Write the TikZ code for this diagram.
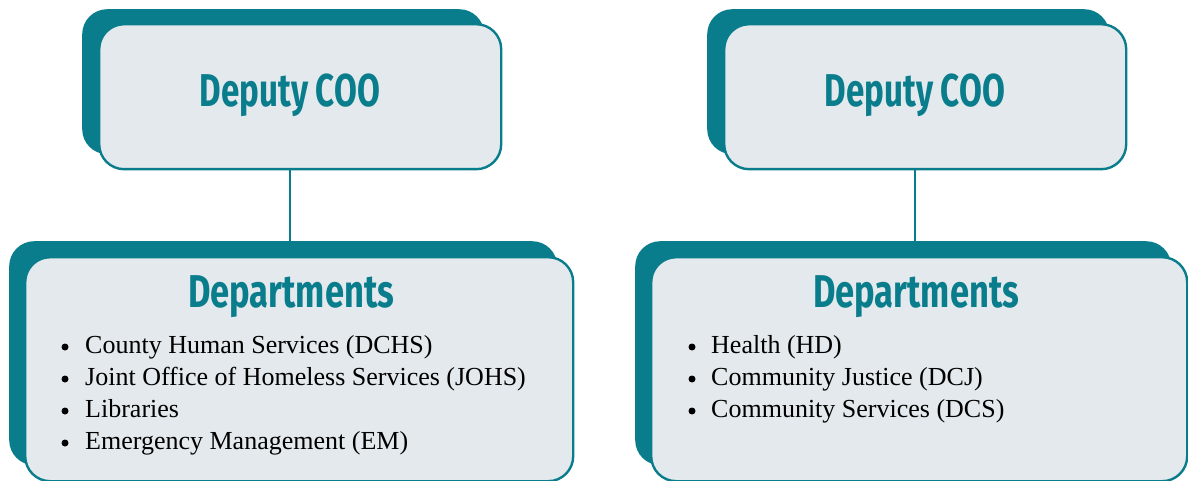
\documentclass[tikz,border=0pt]{standalone}
\usepackage{fontspec}
\setmainfont{Liberation Serif}
\newfontfamily\headfont[FakeStretch=0.75]{Fira Sans}
\newfontfamily\headfontb[FakeStretch=0.72]{Fira Sans}
\definecolor{tealc}{HTML}{0A7D8C}
\definecolor{paperc}{HTML}{E3E9EC}
\begin{document}
\begin{tikzpicture}[x=1pt,y=-1pt,
  shadowbox/.style={fill=tealc, draw=none, rounded corners=25pt, anchor=north west, inner sep=0pt},
  frontbox/.style={fill=paperc, draw=tealc, line width=2.4pt, rounded corners=25pt, anchor=north west, inner sep=0pt},
  titletext/.style={font=\headfont\bfseries\fontsize{46}{50}\selectfont, text=tealc, anchor=base, inner sep=0pt},
  deputytext/.style={titletext, font=\headfontb\bfseries\fontsize{46}{50}\selectfont},
  itemtext/.style={font=\fontsize{26}{32}\selectfont, anchor=base west, inner sep=0pt},
  bul/.style={circle, fill=black, minimum size=7pt, inner sep=0pt},
  conn/.style={draw=tealc, line width=2.2pt}]
\useasboundingbox (0,0) rectangle (1188,481);

% top-left
\node[shadowbox, minimum width=402pt, minimum height=145pt] (d1s) at (82,9) {};
\node[frontbox, minimum width=402pt, minimum height=145pt] (d1) at (98,23) {};
\node[deputytext] (t1) at (290,107) {Deputy COO};
% top-right
\node[shadowbox, minimum width=402pt, minimum height=145pt] (d2s) at (707,9) {};
\node[frontbox, minimum width=402pt, minimum height=145pt] (d2) at (723,23) {};
\node[deputytext] (t2) at (915,107) {Deputy COO};

% bottom-left
\node[shadowbox, minimum width=548pt, minimum height=224pt] (p1s) at (9,241) {};
\node[frontbox, minimum width=548pt, minimum height=224pt] (p1) at (24,256) {};
\node[titletext] (h1) at (291,307) {Departments};
% bottom-right
\node[shadowbox, minimum width=536pt, minimum height=224pt] (p2s) at (635,241) {};
\node[frontbox, minimum width=536pt, minimum height=224pt] (p2) at (650,256) {};
\node[titletext] (h2) at (916,307) {Departments};

% connectors
\draw[conn] (t1 |- d1.south) -- (t1 |- p1s.north);
\draw[conn] (t2 |- d2.south) -- (t2 |- p2s.north);

% left items
\node[bul] (b11) at (65,347) {};
\node[itemtext] (i11) at (85,353) {County Human Services (DCHS)};
\node[bul] (b12) at (65,379) {};
\node[itemtext] (i12) at (85,385) {Joint Office of Homeless Services (JOHS)};
\node[bul] (b13) at (65,411) {};
\node[itemtext] (i13) at (85,417) {Libraries};
\node[bul] (b14) at (65,443) {};
\node[itemtext] (i14) at (85,449) {Emergency Management (EM)};

% right items
\node[bul] (b21) at (692,347) {};
\node[itemtext] (i21) at (711,353) {Health (HD)};
\node[bul] (b22) at (692,379) {};
\node[itemtext] (i22) at (711,385) {Community Justice (DCJ)};
\node[bul] (b23) at (692,411) {};
\node[itemtext] (i23) at (711,417) {Community Services (DCS)};
\end{tikzpicture}
\end{document}
